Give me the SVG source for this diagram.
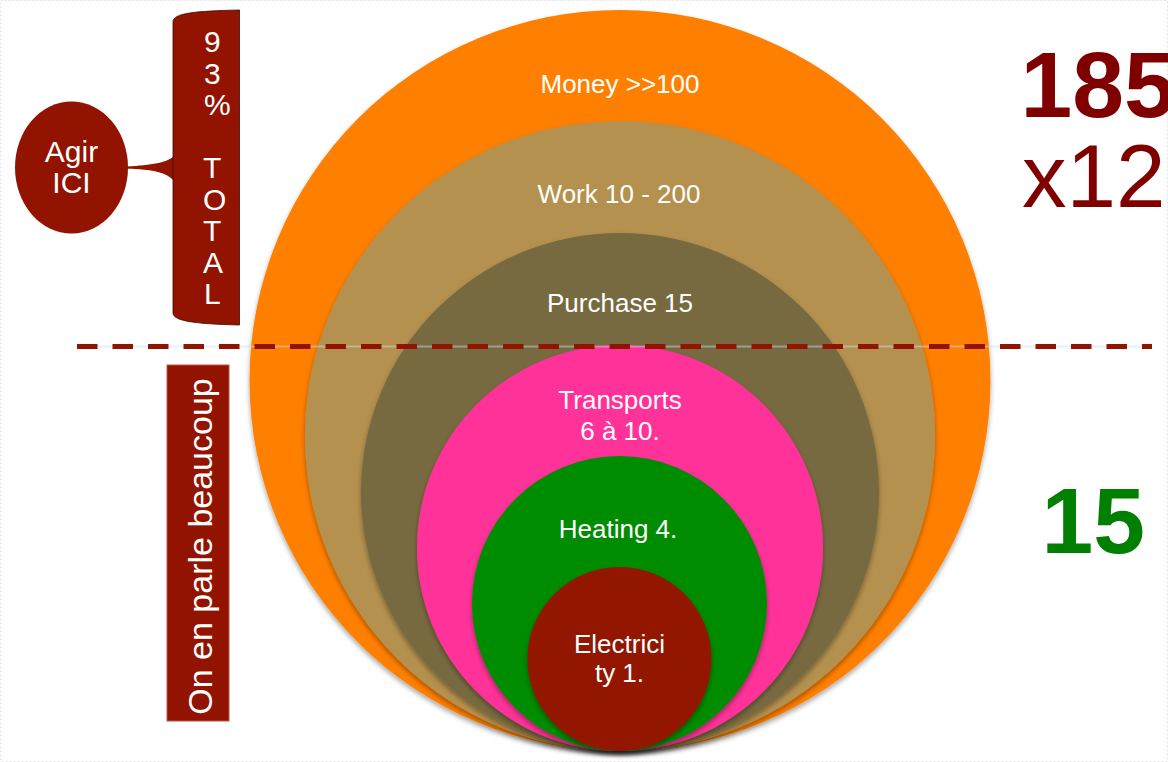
<svg xmlns="http://www.w3.org/2000/svg" width="1168" height="762" viewBox="0 0 1168 762">
<defs>
<filter id="sh" x="-10%" y="-10%" width="120%" height="125%">
<feDropShadow dx="0" dy="3" stdDeviation="2.5" flood-color="#000" flood-opacity="0.35"/>
</filter>
<style>
.lbl{font-family:"Liberation Sans",Arial,sans-serif;font-size:26px;fill:#fff;text-anchor:middle}
.ban{font-family:"Liberation Sans",Arial,sans-serif;font-size:30px;fill:#fff}
.red{fill:#921400}
</style>
</defs>
<rect x="0" y="0" width="1168" height="762" fill="#fff"/>
<rect x="0.5" y="0.5" width="1167" height="761" fill="none" stroke="#e4e4e4" stroke-width="1" stroke-dasharray="2 2"/>

<g id="money"><circle cx="620" cy="380.5" r="370.5" fill="#ff7f00" filter="url(#sh)"/><text class="lbl" x="620" y="93">Money &gt;&gt;100</text></g>
<g id="work"><circle cx="620" cy="436" r="315" fill="#b5914f" filter="url(#sh)"/><text class="lbl" x="619" y="203">Work 10 - 200</text></g>
<g id="purchase"><circle cx="620" cy="492" r="259" fill="#786a40" filter="url(#sh)"/><text class="lbl" x="620" y="312">Purchase 15</text></g>
<g id="transports"><circle cx="620" cy="548" r="203" fill="#ff3399" filter="url(#sh)"/><text class="lbl" x="620" y="409">Transports</text><text class="lbl" x="620" y="440">6 à 10.</text></g>
<g id="heating"><circle cx="619.5" cy="603.5" r="147.5" fill="#008c00" filter="url(#sh)"/><text class="lbl" x="618" y="538">Heating 4.</text></g>
<g id="electricity"><circle cx="619.5" cy="659" r="92" fill="#921400" filter="url(#sh)"/><text class="lbl" x="619.5" y="653">Electrici</text><text class="lbl" x="619.5" y="682">ty 1.</text></g>

<g id="connectors">
<line x1="77" y1="346.5" x2="1152" y2="346.5" stroke="#c8dff0" stroke-width="2" opacity="0.45"/>
<line x1="77" y1="346.5" x2="1152" y2="346.5" stroke="#921400" stroke-width="5" stroke-dasharray="20.5 15"/>
<path class="red" d="M174,156 C166,163 152,165 127,166.5 L127,168.8 C152,169.5 166,172 174,181 Z"/>
</g>

<g id="agir">
<ellipse class="red" cx="71.5" cy="167.5" rx="56.5" ry="66"/>
<text class="ban" x="71.5" y="162" text-anchor="middle">Agir</text>
<text class="ban" x="71.5" y="193" text-anchor="middle">ICI</text>
</g>

<g id="total">
<path class="red" d="M173,22 C173,13 195,11 239.5,10 L239.5,325 C195,324 173,321 173,313 Z" stroke="#3a0a00" stroke-width="0.8"/>
<text class="ban" x="204" y="52">9</text>
<text class="ban" x="204" y="83.5">3</text>
<text class="ban" x="204" y="115">%</text>
<text class="ban" x="203" y="178">T</text>
<text class="ban" x="203" y="209.5">O</text>
<text class="ban" x="203" y="241">T</text>
<text class="ban" x="203" y="272.5">A</text>
<text class="ban" x="204" y="304">L</text>
</g>

<g id="parle">
<rect class="red" x="167" y="365" width="62" height="356" stroke="#c0504d" stroke-width="1"/>
<text transform="translate(212,546.5) rotate(-90)" x="0" y="0" text-anchor="middle" style="font-family:'Liberation Sans',Arial,sans-serif;font-size:34px;fill:#fff">On en parle beaucoup</text>
</g>

<g id="stats">
<text x="1020.5" y="117" style="font-family:'Liberation Sans',Arial,sans-serif;font-size:93px;font-weight:bold;fill:#800000">185</text>
<text x="1022" y="207" style="font-family:'Liberation Sans',Arial,sans-serif;font-size:89px;fill:#800000">x12</text>
<text x="1041.5" y="553" style="font-family:'Liberation Sans',Arial,sans-serif;font-size:93px;font-weight:bold;fill:#007f00">15</text>
</g>
</svg>
